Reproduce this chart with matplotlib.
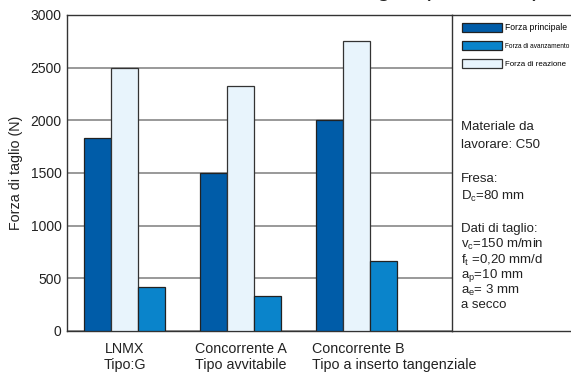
import matplotlib
matplotlib.use('Agg')
import matplotlib.pyplot as plt
import matplotlib.transforms as mtransforms
import numpy as np
from matplotlib.patches import Patch

plt.rcParams['font.family'] = ['Liberation Sans', 'DejaVu Sans']
plt.rcParams['mathtext.fontset'] = 'custom'
plt.rcParams['mathtext.rm'] = 'Liberation Sans'
plt.rcParams['mathtext.it'] = 'Liberation Sans'

# data
categories = ['LNMX\nTipo:G', 'Concorrente A\nTipo avvitabile', 'Concorrente B\nTipo a inserto tangenziale']
forza_principale = [1835, 1500, 2000]
forza_reazione = [2500, 2330, 2750]
forza_avanzamento = [415, 330, 665]
series_names = ['Forza principale', 'Forza di avanzamento', 'Forza di reazione']
y_ticks = [0, 500, 1000, 1500, 2000, 2500, 3000]

c_princ = '#005ca8'
c_avanz = '#0a84cb'
c_reaz = '#e8f4fc'

W, H = 571, 374
fig = plt.figure(figsize=(W / 100, H / 100), dpi=100)
ax = fig.add_axes([67 / W, 43 / H, 385 / W, 316 / H])

x = np.arange(len(categories))
w = 0.233
ax.bar(x - w, forza_principale, w, color=c_princ, edgecolor='#222222', linewidth=0.9, zorder=3)
ax.bar(x, forza_reazione, w, color=c_reaz, edgecolor='#333333', linewidth=0.9, zorder=3)
ax.bar(x + w, forza_avanzamento, w, color=c_avanz, edgecolor='#222222', linewidth=0.9, zorder=3)

ax.set_xlim(-0.496, 2.823)
ax.set_ylim(0, 3000)
ax.set_yticks(y_ticks)
ax.set_yticklabels([str(t) for t in y_ticks], fontsize=10, color='#222222')
ax.tick_params(axis='y', length=0, pad=4)
ax.grid(axis='y', color='#888888', linewidth=1.2, zorder=0)
ax.set_ylabel('Forza di taglio (N)', fontsize=10.3, color='#222222', labelpad=5)

# category labels (third one left aligned as in the original)
ax.set_xticks(x)
ax.set_xticklabels([])
ax.tick_params(axis='x', length=0)
trans = mtransforms.blended_transform_factory(ax.transData, ax.transAxes)
ax.text(x[0], -0.035, categories[0], transform=trans, ha='center', va='top',
        fontsize=10.3, color='#222222', linespacing=1.15)
ax.text(x[1], -0.035, categories[1], transform=trans, ha='center', va='top',
        fontsize=10.3, color='#222222', linespacing=1.15)
ax.text(x[2] - 0.38, -0.035, categories[2], transform=trans, ha='left', va='top',
        fontsize=10.3, color='#222222', linespacing=1.15, multialignment='left')

for s in ax.spines.values():
    s.set_color('#333333')
    s.set_linewidth(1.0)
ax.spines['right'].set_visible(False)

# right panel
ax2 = fig.add_axes([452 / W, 43 / H, (W - 452) / W + 0.02, 316 / H])
ax2.set_xticks([])
ax2.set_yticks([])
for s in ax2.spines.values():
    s.set_color('#333333')
    s.set_linewidth(1.0)
ax2.spines['right'].set_visible(False)

handles = [Patch(facecolor=c_princ, edgecolor='#222222', linewidth=0.9),
           Patch(facecolor=c_avanz, edgecolor='#222222', linewidth=0.9),
           Patch(facecolor=c_reaz, edgecolor='#333333', linewidth=0.9)]
leg = fig.legend(handles, series_names, loc='upper left',
                 bbox_to_anchor=(462 / W, 1 - 23 / H), bbox_transform=fig.transFigure,
                 frameon=False, borderpad=0, borderaxespad=0,
                 handlelength=4.6, handleheight=1.2, handletextpad=0.45,
                 labelspacing=1.0,
                 prop={'size': 6.2})
leg.get_texts()[1].set_fontsize(4.7)
leg.get_texts()[2].set_fontsize(5.7)

info_lines = [
    ('Materiale da', 127),
    ('lavorare: C50', 145),
    ('Fresa:', 179),
    (r'D$_\mathregular{c}$=80 mm', 196),
    ('Dati di taglio:', 229),
    (r'v$_\mathregular{c}$=150 m/min', 244),
    (r'f$_\mathregular{t}$ =0,20 mm/d', 260),
    (r'a$_\mathregular{p}$=10 mm', 275),
    (r'a$_\mathregular{e}$= 3 mm', 290),
    ('a secco', 305),
]
for txt, yp in info_lines:
    fig.text(461 / W, 1 - yp / H, txt, fontsize=9.5, color='#222222', va='center', ha='left')

# title, almost entirely cut off by the top edge as in the original
fig.text(541 / W, 1 + 4 / H, 'Forze di taglio (Fc, Ff, Fr)', fontsize=18, color='#222222',
         ha='right', va='baseline')

fig.savefig('out.png', dpi=100)
